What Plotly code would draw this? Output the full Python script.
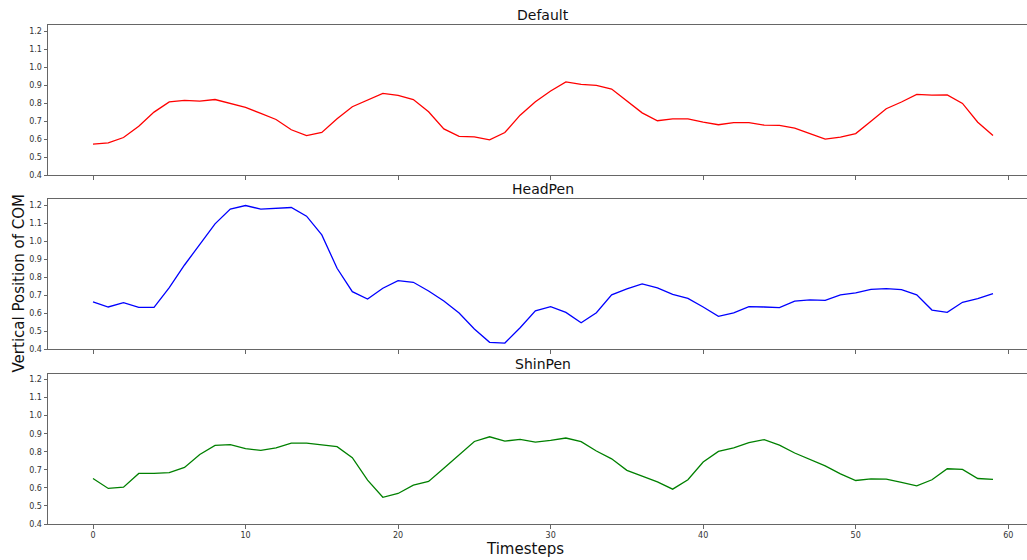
import plotly.graph_objects as go

timesteps = list(range(60))

default_com = [0.572, 0.579, 0.609, 0.672, 0.750, 0.807, 0.815, 0.811, 0.820, 0.796,
               0.776, 0.743, 0.709, 0.652, 0.620, 0.637, 0.713, 0.780, 0.818, 0.854,
               0.843, 0.820, 0.752, 0.657, 0.615, 0.613, 0.596, 0.637, 0.733, 0.808,
               0.867, 0.918, 0.904, 0.898, 0.878, 0.811, 0.746, 0.702, 0.713, 0.713,
               0.694, 0.680, 0.692, 0.692, 0.678, 0.676, 0.661, 0.631, 0.600, 0.611,
               0.631, 0.700, 0.769, 0.806, 0.848, 0.844, 0.846, 0.798, 0.694, 0.620]

headpen_com = [0.664, 0.635, 0.659, 0.633, 0.633, 0.742, 0.868, 0.985, 1.096, 1.178,
               1.198, 1.178, 1.181, 1.187, 1.139, 1.035, 0.850, 0.720, 0.679, 0.739,
               0.781, 0.772, 0.724, 0.668, 0.602, 0.513, 0.439, 0.435, 0.520, 0.614,
               0.637, 0.605, 0.548, 0.603, 0.702, 0.735, 0.763, 0.741, 0.705, 0.683,
               0.635, 0.583, 0.603, 0.637, 0.635, 0.631, 0.668, 0.674, 0.672, 0.702,
               0.713, 0.733, 0.737, 0.731, 0.702, 0.618, 0.605, 0.661, 0.681, 0.709]

shinpen_com = [0.652, 0.597, 0.604, 0.680, 0.680, 0.685, 0.713, 0.785, 0.835, 0.839,
               0.817, 0.808, 0.821, 0.848, 0.848, 0.837, 0.828, 0.767, 0.643, 0.548,
               0.569, 0.615, 0.636, 0.709, 0.782, 0.857, 0.883, 0.859, 0.869, 0.853,
               0.863, 0.876, 0.856, 0.804, 0.761, 0.697, 0.665, 0.633, 0.593, 0.645,
               0.743, 0.802, 0.822, 0.850, 0.867, 0.837, 0.793, 0.758, 0.722, 0.678,
               0.641, 0.650, 0.648, 0.630, 0.611, 0.645, 0.706, 0.702, 0.652, 0.647]

series_names = ["Default", "HeadPen", "ShinPen"]
series_values = [default_com, headpen_com, shinpen_com]
series_colors = ["#ff0000", "#0000ff", "#008000"]
y_ticks = [0.4, 0.5, 0.6, 0.7, 0.8, 0.9, 1.0, 1.1, 1.2]
x_ticks = [0, 10, 20, 30, 40, 50, 60]

FONT = "DejaVu Sans"
domains = [[0.699, 1.0], [0.350, 0.651], [0.0, 0.3016]]
title_y = [1.02, 0.671, 0.3206]

fig = go.Figure()
layout = dict(
    width=1038, height=560,
    margin=dict(l=48, r=0, t=25, b=36),
    plot_bgcolor="white", paper_bgcolor="white",
    showlegend=False,
    font=dict(family=FONT, color="#222"),
)

annotations = []
for i, (name, vals, col) in enumerate(zip(series_names, series_values, series_colors)):
    n = i + 1
    xa = "x" if n == 1 else f"x{n}"
    ya = "y" if n == 1 else f"y{n}"
    fig.add_trace(go.Scatter(x=timesteps, y=vals, mode="lines",
                             line=dict(color=col, width=1.3),
                             xaxis=xa, yaxis=ya, name=name))
    xkey = "xaxis" if n == 1 else f"xaxis{n}"
    ykey = "yaxis" if n == 1 else f"yaxis{n}"
    layout[xkey] = dict(
        domain=[0, 1], anchor=ya, range=[-2.95, 61.95],
        showgrid=False, zeroline=False,
        showline=True, mirror=True, linecolor="#666", linewidth=1,
        ticks="outside", ticklen=3.5, tickcolor="#666",
        tickvals=x_ticks, showticklabels=(n == 3),
        tickfont=dict(family=FONT, size=8, color="#333"),
    )
    if n != 1:
        layout[xkey]["matches"] = "x"
    layout[ykey] = dict(
        domain=domains[i], anchor=xa, range=[0.4, 1.2333],
        showgrid=False, zeroline=False,
        showline=True, mirror=True, linecolor="#666", linewidth=1,
        ticks="outside", ticklen=3.5, tickcolor="#666",
        tickvals=y_ticks, tickformat=".1f",
        tickfont=dict(family=FONT, size=8, color="#333"),
    )
    annotations.append(dict(text=name, xref="paper", yref="paper",
                            x=0.4995, y=title_y[i], xanchor="center", yanchor="middle",
                            showarrow=False, font=dict(family=FONT, size=14, color="#111")))

annotations.append(dict(text="Vertical Position of COM", xref="paper", yref="paper",
                        x=-0.0293, y=0.484, textangle=-90, xanchor="center", yanchor="middle",
                        showarrow=False, font=dict(family=FONT, size=15, color="#111")))
annotations.append(dict(text="Timesteps", xref="paper", yref="paper",
                        x=0.4818, y=-0.05, xanchor="center", yanchor="middle",
                        showarrow=False, font=dict(family=FONT, size=15, color="#111")))
layout["annotations"] = annotations
fig.update_layout(**layout)
fig.write_html("out.html",
               config={"displayModeBar": False},
               post_script="document.body.style.margin='0';document.body.style.overflow='hidden';")
